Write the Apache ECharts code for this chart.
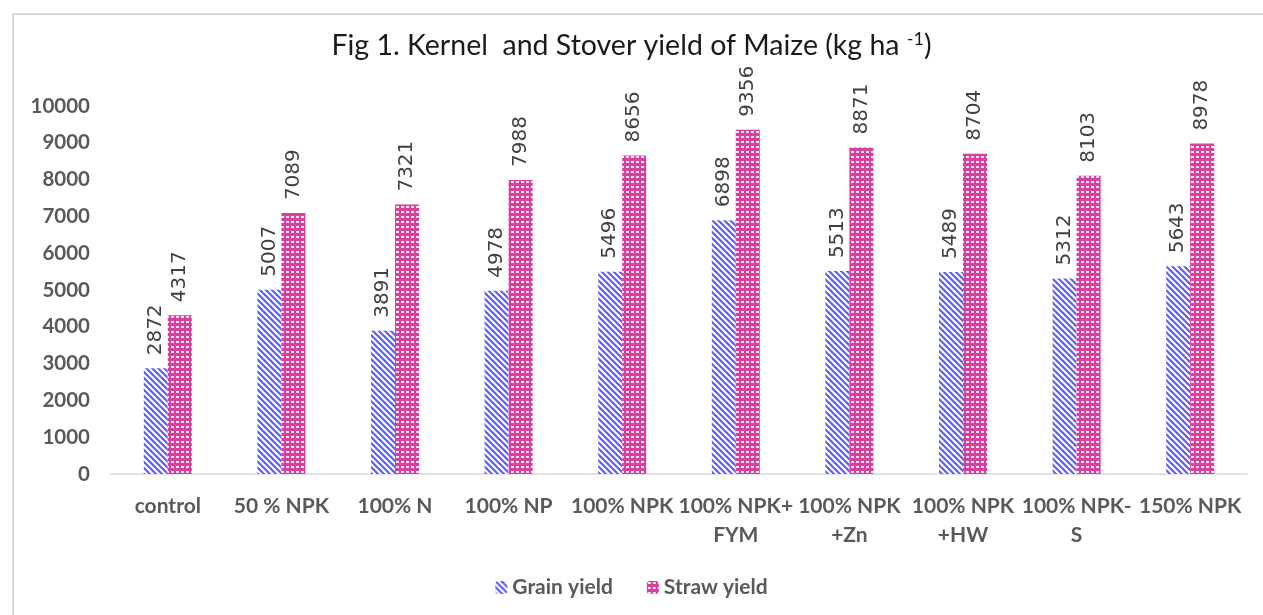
<!DOCTYPE html>
<html><head><meta charset="utf-8">
<script src="https://cdn.jsdelivr.net/npm/echarts@6/dist/echarts.min.js"></script>
<style>html,body{margin:0;padding:0;background:#fff}#c{width:1263px;height:615px}
#frame{position:absolute;left:12px;top:13px;width:1260px;height:610px;border:2px solid #d9d9d9;box-sizing:border-box;pointer-events:none}</style>
</head><body><div id="c"></div><div id="frame"></div>
<script>
const categories = ['control','50 % NPK','100% N','100% NP','100% NPK','100% NPK+\nFYM','100% NPK\n+Zn','100% NPK\n+HW','100% NPK-\nS','150% NPK'];
const grainYield = [2872,5007,3891,4978,5496,6898,5513,5489,5312,5643];
const strawYield = [4317,7089,7321,7988,8656,9356,8871,8704,8103,8978];
const yTicks = [0,1000,2000,3000,4000,5000,6000,7000,8000,9000,10000];

function stripe(){
  const c=document.createElement('canvas');c.width=6;c.height=6;const x=c.getContext('2d');
  x.fillStyle='#fff';x.fillRect(0,0,6,6);
  x.strokeStyle='#5c5cff';x.lineWidth=2.2;
  for(let k=-2;k<=2;k++){x.beginPath();x.moveTo(k*6-3,-3);x.lineTo(k*6+9,9);x.stroke();}
  return c;
}
function dots(){
  const c=document.createElement('canvas');c.width=5;c.height=5;const x=c.getContext('2d');
  x.fillStyle='#d8409d';x.fillRect(0,0,5,5);
  x.fillStyle='#fbe6f2';x.fillRect(1,1,3,2);
  return c;
}
const chart=echarts.init(document.getElementById('c'));
const lbl={show:true,position:'top',rotate:90,align:'left',verticalAlign:'middle',distance:13,
  fontFamily:'DejaVu Sans',fontSize:20,color:'#404040'};
chart.setOption({
  animation:false,
  title:{text:'Fig 1. Kernel  and Stover yield of Maize (kg ha {s|-1})',left:'center',top:25,
    textStyle:{fontFamily:'Lato',fontSize:28.5,fontWeight:'normal',color:'#1a1a1a',
      rich:{s:{fontFamily:'Lato',fontSize:18,color:'#1a1a1a',verticalAlign:'top',padding:[0,0,14,0]}}}},
  legend:{bottom:12,left:'center',itemWidth:12,itemHeight:13,itemGap:34,
    textStyle:{fontFamily:'Lato',fontWeight:'bold',fontSize:21,color:'#595959'},
    data:['Grain yield','Straw yield']},
  grid:{left:111,right:16,top:106,bottom:141},
  xAxis:{type:'category',data:categories,axisTick:{show:false},
    axisLine:{lineStyle:{color:'#d9d9d9',width:1.5}},
    axisLabel:{interval:0,margin:18,lineHeight:29,fontFamily:'Lato',fontWeight:'bold',fontSize:21,color:'#595959'}},
  yAxis:{type:'value',min:0,max:10000,interval:1000,splitLine:{show:false},
    axisLine:{show:false},axisTick:{show:false},
    axisLabel:{margin:21,fontFamily:'Lato',fontWeight:'bold',fontSize:20.5,color:'#595959',
      formatter:v=>yTicks.includes(v)?String(v):''}},
  series:[
    {name:'Grain yield',type:'bar',data:grainYield,barWidth:24,barGap:'0%',
      itemStyle:{color:{image:stripe(),repeat:'repeat'}},label:lbl},
    {name:'Straw yield',type:'bar',data:strawYield,barWidth:24,
      itemStyle:{color:{image:dots(),repeat:'repeat'}},label:lbl}
  ]
});
</script></body></html>
